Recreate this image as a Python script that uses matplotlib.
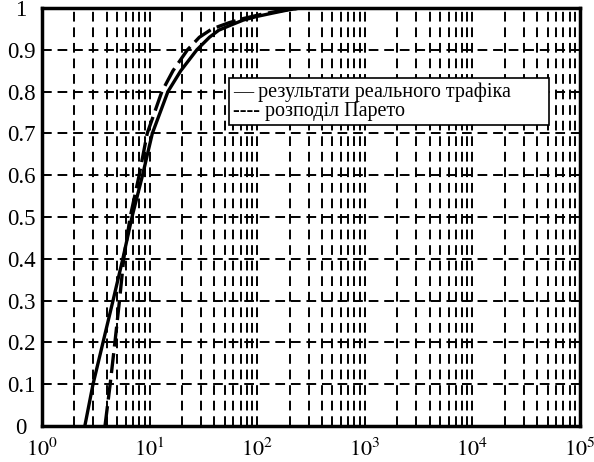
import numpy as np
import matplotlib
matplotlib.use("Agg")
from matplotlib import pyplot as plt

# values
x_real = [2.5, 2.98, 3.69, 4.57, 5.64, 6.86, 8.6, 10.6, 14.8, 19.5, 27.5, 36, 44, 58, 74, 100, 140, 190, 250]
y_real = [0.0, 0.1, 0.2, 0.3, 0.4, 0.5, 0.6, 0.7, 0.8, 0.85, 0.9, 0.93, 0.947, 0.96, 0.971, 0.98, 0.988, 0.995, 1.0]

x_par = [3.85, 4.3, 4.76, 5.25, 5.75, 6.6, 8.0, 9.5, 13.0, 16.5, 22.5, 29, 38, 55, 75, 110, 160, 250]
y_par = [0.0, 0.1, 0.2, 0.3, 0.4, 0.5, 0.6, 0.7, 0.8, 0.85, 0.9, 0.93, 0.95, 0.965, 0.975, 0.985, 0.993, 1.0]

yticks = [0, 0.1, 0.2, 0.3, 0.4, 0.5, 0.6, 0.7, 0.8, 0.9, 1]
ytick_labels = ["0", "0.1", "0.2", "0.3", "0.4", "0.5", "0.6", "0.7", "0.8", "0.9", "1"]
xticks = [1, 10, 100, 1000, 10000, 100000]
xtick_labels = ["$10^0$", "$10^1$", "$10^2$", "$10^3$", "$10^4$", "$10^5$"]

labels = ["— результати реального трафіка", "---- розподіл Парето"]

plt.rcParams["font.family"] = ["Liberation Serif", "DejaVu Serif"]
plt.rcParams["mathtext.fontset"] = "stix"

fig = plt.figure(figsize=(5.94, 4.62), dpi=100)
ax = fig.add_axes([42 / 594, 1 - 426 / 462, (580 - 42) / 594, (426 - 8) / 462])

l1, = ax.plot(x_real, y_real, color="black", lw=2.4)
l2, = ax.plot(x_par, y_par, color="black", lw=2.4, dashes=(6, 2))

ax.set_xscale("log")
ax.set_xlim(1, 1e5)
ax.set_ylim(0, 1)
ax.set_xticks(xticks)
ax.set_xticklabels(xtick_labels, fontsize=16)
ax.set_yticks(yticks)
ax.set_yticklabels(ytick_labels, fontsize=16.5, ha="center")
ax.tick_params(axis="both", which="both", length=0)
ax.tick_params(axis="x", pad=9)
ax.tick_params(axis="y", pad=15)

ax.grid(True, which="major", axis="both", color="black", lw=1.4, dashes=(5, 3))
ax.grid(True, which="minor", axis="x", color="black", lw=1.4, dashes=(5, 3))
ax.set_axisbelow(True)

for s in ax.spines.values():
    s.set_linewidth(2.5)

leg = ax.legend([l1, l2], labels, loc="upper left", mode="expand",
                bbox_to_anchor=(0.329, 0.7, 0.632, 0.1565),
                fontsize=14.5, handlelength=0, handletextpad=0, borderpad=0.2,
                labelspacing=0.0, fancybox=False, framealpha=1, edgecolor="black")
leg.get_frame().set_linewidth(1.2)
for h in leg.get_lines():
    h.set_visible(False)

fig.savefig("out.png", dpi=100)
